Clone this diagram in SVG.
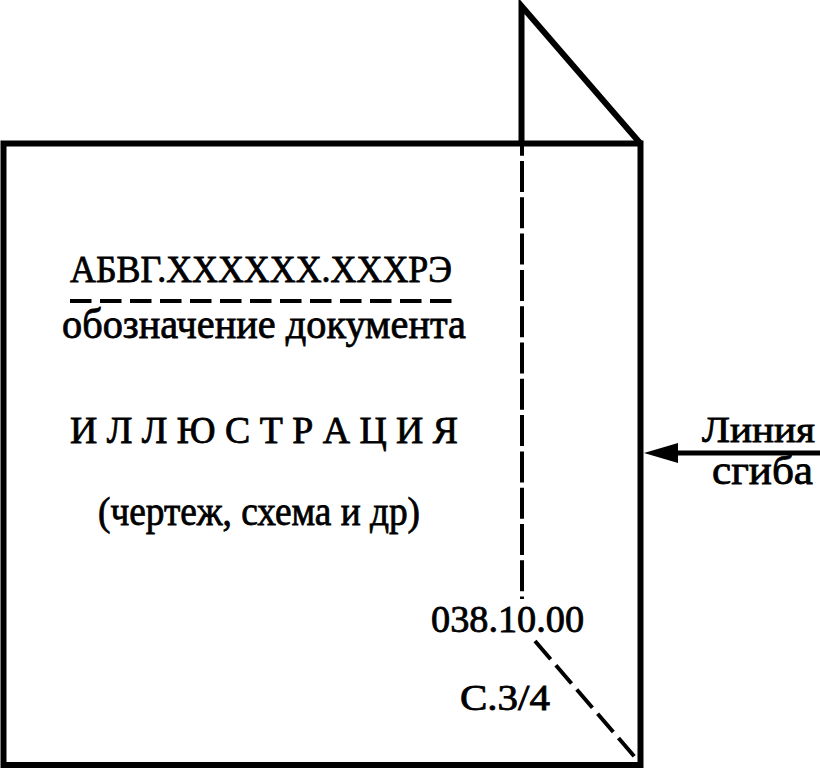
<svg xmlns="http://www.w3.org/2000/svg" width="820" height="769" viewBox="0 0 820 769">
<style>
.t{font-family:"Liberation Serif","Times New Roman",serif;fill:#000;stroke:#000;stroke-width:0.8}
.s{stroke:#000;fill:none;stroke-width:6;stroke-linecap:butt}
.d{stroke:#000;fill:none;stroke-width:4}
</style>
<g id="sheet">
<rect class="s" x="3.5" y="143.5" width="637" height="621.5"/>
</g>
<g id="fold">
<path class="s" d="M521.5,144 L521.5,6 L640,143" stroke-linejoin="miter"/>
</g>
<g id="connectors">
<line class="d" x1="522" y1="124.7" x2="522" y2="599" stroke-dasharray="31 5.3"/>
<line class="d" x1="535" y1="641" x2="640" y2="763" stroke-dasharray="24 8"/>
<line class="d" x1="70" y1="301" x2="456" y2="301" stroke-dasharray="21.5 8.5" stroke-width="5"/>
<line x1="820" y1="453" x2="676" y2="453" stroke="#000" stroke-width="5"/>
<path d="M644,453 L678,443 L678,463 Z" fill="#000"/>
</g>
<g id="labels">
<text class="t" x="70" y="282" font-size="37" textLength="382" lengthAdjust="spacingAndGlyphs">АБВГ.XXXXXX.XXXРЭ</text>
<text class="t" x="62" y="338" font-size="42" textLength="404" lengthAdjust="spacingAndGlyphs">обозначение документа</text>
<text class="t" x="70" y="443" font-size="37" textLength="388" lengthAdjust="spacingAndGlyphs">И Л Л Ю С Т Р А Ц И Я</text>
<text class="t" x="98" y="525" font-size="40" textLength="322" lengthAdjust="spacingAndGlyphs">(чертеж, схема и др)</text>
<text class="t" x="431" y="632" font-size="37" textLength="153" lengthAdjust="spacingAndGlyphs">038.10.00</text>
<text class="t" x="460" y="710" font-size="36" textLength="90" lengthAdjust="spacingAndGlyphs">С.3/4</text>
<text class="t" x="702" y="442" font-size="36" textLength="113" lengthAdjust="spacingAndGlyphs">Линия</text>
<text class="t" x="712" y="484" font-size="40" textLength="101" lengthAdjust="spacingAndGlyphs">сгиба</text>
</g>
</svg>
